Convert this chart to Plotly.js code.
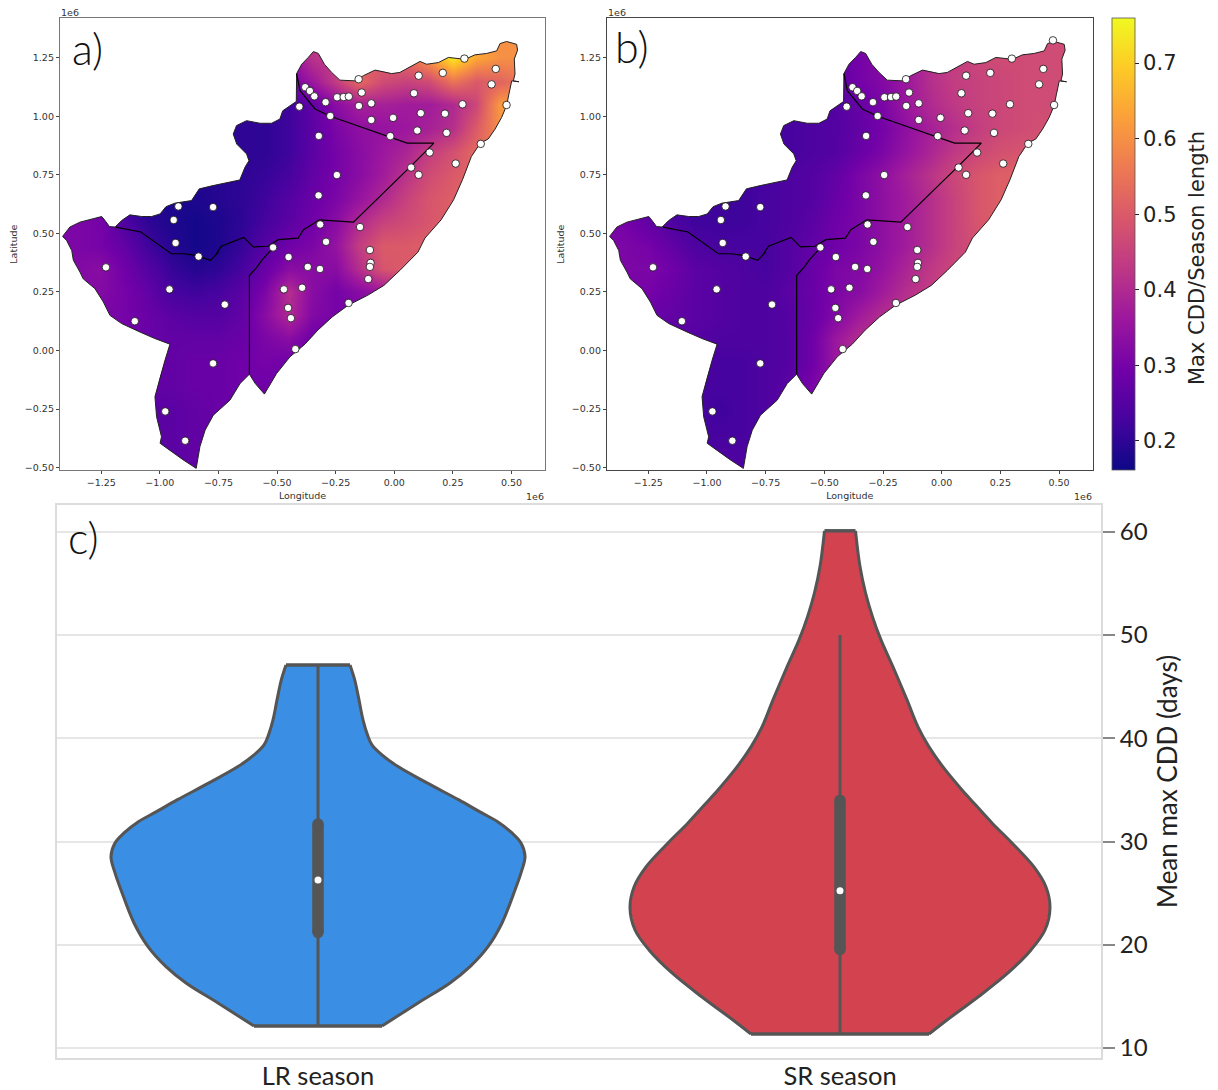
<!DOCTYPE html>
<html><head><meta charset="utf-8">
<script src="https://cdn.plot.ly/plotly-3.0.1.min.js"></script>
<style>html,body{margin:0;padding:0;background:#fff}</style></head>
<body><div id="chart" style="width:1218px;height:1090px"></div>
<script>
const _ = null;
const gridLon = [-1.45,-1.35,-1.25,-1.15,-1.05,-.95,-.85,-.75,-.65,-.55,-.45,-.35,-.25,-.15,-.05,.05,.15,.25,.35,.45,.55];
const gridLat = [1.35,1.25,1.15,1.05,.95,.85,.75,.65,.55,.45,.35,.25,.15,.05,-.05,-.15,-.25,-.35,-.45,-.55];
const ratioLR = [
[_,_,_,_,_,_,_,_,_,_,.38,.42,.44,.50,.52,.56,.62,.72,.62,.60,.60],
[_,_,_,_,_,_,_,_,_,.28,.34,.42,.44,.50,.52,.54,.62,.74,.64,.60,.60],
[_,_,_,_,_,_,_,_,.22,.24,.30,.36,.44,.53,.47,.45,.47,.55,.50,.52,.56],
[_,_,_,_,_,_,_,.21,.21,.21,.22,.27,.33,.38,.38,.37,.37,.40,.46,.62,.62],
[_,_,_,_,_,_,_,.20,.20,.20,.22,.26,.31,.34,.35,.36,.38,.41,.50,.60,.60],
[_,_,_,_,_,_,.20,.20,.20,.20,.22,.26,.30,.33,.36,.39,.44,.48,.53,.56,_],
[_,_,_,_,_,.19,.19,.19,.20,.21,.23,.27,.30,.33,.37,.42,.47,.50,.52,_,_],
[_,.29,.26,.20,.19,.18,.18,.19,.20,.22,.25,.28,.31,.35,.40,.45,.49,.51,.52,_,_],
[.31,.31,.30,.24,.20,.18,.17,.18,.20,.23,.26,.29,.33,.40,.45,.47,.49,.51,_,_,_],
[.31,.31,.30,.27,.22,.19,.17,.18,.21,.25,.29,.31,.35,.44,.50,.50,.51,_,_,_,_],
[.31,.32,.33,.29,.25,.21,.19,.20,.23,.28,.33,.33,.33,.41,.49,.50,.50,_,_,_,_],
[_,.32,.32,.30,.27,.23,.22,.23,.26,.31,.41,.33,.30,.33,.36,.38,_,_,_,_,_],
[_,.31,.31,.30,.28,.26,.25,.25,.27,.33,.40,.32,.30,.30,.33,_,_,_,_,_,_],
[_,_,.30,.29,.28,.27,.27,.27,.28,.31,.33,.29,.28,_,_,_,_,_,_,_,_],
[_,_,_,_,.27,.27,.28,.28,.29,.30,.29,.28,_,_,_,_,_,_,_,_,_],
[_,_,_,_,.27,.27,.28,.28,.29,.29,.29,_,_,_,_,_,_,_,_,_,_],
[_,_,_,_,.26,.26,.27,.28,.28,.29,.29,_,_,_,_,_,_,_,_,_,_],
[_,_,_,_,.26,.26,.27,.27,.27,_,_,_,_,_,_,_,_,_,_,_,_],
[_,_,_,_,.26,.26,.27,.27,_,_,_,_,_,_,_,_,_,_,_,_,_],
[_,_,_,_,.26,.26,.27,.27,_,_,_,_,_,_,_,_,_,_,_,_,_]];
const ratioSR = [
[_,_,_,_,_,_,_,_,_,_,.24,.30,.34,.38,.41,.44,.46,.47,.47,.47,.47],
[_,_,_,_,_,_,_,_,_,.24,.27,.30,.33,.37,.41,.44,.46,.47,.47,.47,.47],
[_,_,_,_,_,_,_,_,.24,.24,.26,.30,.32,.36,.41,.44,.45,.46,.47,.47,.47],
[_,_,_,_,_,_,_,.24,.24,.24,.25,.28,.31,.36,.40,.43,.45,.46,.47,.47,.47],
[_,_,_,_,_,_,_,.23,.23,.24,.25,.27,.30,.34,.38,.41,.44,.46,.47,.48,.48],
[_,_,_,_,_,_,.23,.23,.23,.24,.25,.28,.31,.35,.39,.43,.46,.48,.49,.49,_],
[_,_,_,_,_,.22,.22,.23,.24,.25,.27,.31,.34,.38,.42,.46,.49,.51,.51,_,_],
[_,.28,.25,.22,.22,.22,.22,.23,.24,.25,.28,.31,.34,.37,.41,.45,.49,.51,.51,_,_],
[.31,.30,.27,.24,.22,.22,.22,.23,.24,.26,.29,.31,.34,.37,.41,.45,.49,.51,_,_,_],
[.31,.31,.30,.27,.24,.23,.23,.23,.25,.27,.29,.31,.34,.37,.41,.45,.48,_,_,_,_],
[.31,.31,.31,.29,.26,.25,.24,.23,.25,.28,.31,.32,.35,.39,.43,.46,.47,_,_,_,_],
[_,.30,.30,.28,.26,.25,.24,.24,.26,.28,.31,.33,.37,.41,.44,.46,_,_,_,_,_],
[_,.29,.28,.27,.26,.25,.24,.24,.25,.28,.32,.37,.41,.43,.44,_,_,_,_,_,_],
[_,_,.27,.26,.25,.24,.24,.24,.25,.29,.36,.41,.42,_,_,_,_,_,_,_,_],
[_,_,_,_,.24,.23,.23,.24,.25,.29,.36,.40,_,_,_,_,_,_,_,_,_],
[_,_,_,_,.23,.23,.23,.24,.26,.31,.34,_,_,_,_,_,_,_,_,_,_],
[_,_,_,_,.23,.22,.23,.24,.26,.30,.33,_,_,_,_,_,_,_,_,_,_],
[_,_,_,_,.23,.23,.23,.24,.25,_,_,_,_,_,_,_,_,_,_,_,_],
[_,_,_,_,.23,.24,.24,.25,_,_,_,_,_,_,_,_,_,_,_,_,_],
[_,_,_,_,.23,.24,.24,.25,_,_,_,_,_,_,_,_,_,_,_,_,_]];

const coastLon = [-.4165,-.395,-.367,-.345,-.324,-.298,-.267,-.232,-.168,-.132,-.082,-.047,-.011,.024,.067,.110,.138,.188,.231,.302,.344,.394,.437,.451,.479,.522,.526,.512,.515,.508,.532,.501,.489,.479,.458,.430,.401,
  .367,.329,.291,.253,.200,.131,.101,.024,-.044,-.113,-.197,-.265,-.326,-.381,-.445,-.502,-.554,-.593,-.618,-.658,-.701,-.772,-.807,-.829,-.845,
  -.900,-.957,-.999,-.993,-1.014,-1.021,-.999,-.978,-.957,-1.021,-1.085,-1.163,-1.213,-1.241,-1.277,-1.327,-1.341,-1.369,-1.376,-1.398,-1.415,
  -1.384,-1.341,-1.284,-1.248,-1.234,-1.215,-1.191,-1.163,-1.128,-1.078,-1.035,-.999,-.974,-.936,-.865,-.832,-.773,-.659,-.637,-.620,-.630,-.672,-.687,-.673,-.630,-.573,-.523,-.488,-.476,-.418,-.4165];
const coastLat = [1.182,1.222,1.251,1.276,1.268,1.222,1.187,1.154,1.151,1.173,1.197,1.191,1.182,1.187,1.211,1.234,1.222,1.229,1.251,1.243,1.262,1.268,1.279,1.310,1.319,1.307,1.282,1.244,1.180,1.151,1.147,1.151,1.094,1.045,.995,.945,.903,
  .885,.828,.729,.643,.558,.480,.420,.342,.278,.236,.193,.143,.087,.027,-.027,-.098,-.186,-.141,-.101,-.141,-.212,-.276,-.340,-.410,-.503,
  -.467,-.427,-.396,-.368,-.283,-.197,-.112,-.041,.027,.051,.079,.115,.150,.207,.264,.306,.335,.385,.427,.470,.487,
  .527,.548,.562,.572,.555,.529,.527,.555,.579,.572,.572,.583,.614,.629,.640,.690,.704,.728,.782,.810,.839,.881,.924,.960,.981,.970,.970,.988,1.023,1.063,1.182];
const borderLon = [-.4165,-.402,-.338,-.273,.055,.169,.070,-.174,-.319,-.387,-.410,-.494,-.540,-.601,-.642,-.738,-.761,-.750,-.784,-.845,-.898,-.951,-1.081,-1.188,_,-.516,-.563,-.585,-.618,-.618];
const borderLat = [1.182,1.109,1.031,1.000,.885,.885,.786,.548,.558,.516,.480,.473,.445,.442,.483,.445,.409,.420,.385,.406,.413,.413,.506,.527,_,.439,.388,.357,.320,-.101];
const stationLon = [-.380,-.360,-.341,-.405,-.293,-.244,-.216,-.194,-.152,-.139,-.151,-.098,-.273,-.098,-.005,.084,.104,.207,.299,.433,.415,.291,.479,.113,.216,.098,.223,-.017,-.322,.369,.151,.262,.072,.104,-.245,-.323,-.921,-.773,-.941,-.933,-.316,-.146,-.291,-.104,-.517,-.835,-.451,-1.230,-.369,-.317,-.101,-.104,-.111,-.959,-.471,-.393,-.723,-.453,-.195,-1.107,-.441,-.422,-.773,-.977,-.892];
const stationLat = [1.124,1.108,1.085,1.041,1.060,1.081,1.082,1.084,1.158,1.101,1.044,1.055,1.001,.984,.993,1.098,1.173,1.185,1.246,1.202,1.136,1.051,1.048,1.013,1.011,.939,.929,.915,.916,.882,.845,.798,.781,.750,.749,.662,.615,.612,.557,.459,.538,.527,.464,.429,.440,.401,.399,.355,.357,.348,.374,.357,.305,.261,.261,.268,.196,.182,.203,.125,.138,.006,-.055,-.260,-.385];
const extraLonSR = [.474];
const extraLatSR = [1.324];

const seasons = ['LR season','SR season'];
const lrCdd = [47.11,45.66,43.72,41.78,40.33,39.36,38.39,37.26,35.68,34.03,32.87,31.90,30.83,29.86,28.54,26.96,25.31,22.11,19.82,17.88,16.30,14.36,12.13];
const lrDensity = [.0613,.0703,.0785,.0862,.0948,.1034,.1225,.1533,.2088,.2701,.3103,.3448,.3716,.3889,.3966,.3889,.3774,.3525,.3257,.2912,.2529,.1916,.1226];
const srCdd = [60.1,56.64,54.09,51.76,49.53,46.92,43.72,41.10,39.17,37.23,35.0,34.03,31.8,29.86,27.54,25.60,23.57,21.43,19.5,17.27,14.94,12.71,11.35];
const srDensity = [.0297,.0383,.0489,.0623,.0785,.1015,.1284,.1494,.1705,.1973,.2337,.2510,.2912,.3295,.3716,.3946,.4023,.3927,.3659,.3218,.2644,.2050,.1705];
const lrBox = {low:12.13, q1:21.2, med:26.28, q3:31.7, high:47.11};
const srBox = {low:11.35, q1:19.55, med:25.24, q3:34.0, high:50.0};
const mapTicks = [-1.25,-1,-.75,-.5,-.25,0,.25,.5];
const latTicks = [-.5,-.25,0,.25,.5,.75,1,1.25];
const cddTicks = [10,20,30,40,50,60];
const cbTicks = [.2,.3,.4,.5,.6,.7];
const plasma = ['#0d0887','#46039f','#7201a8','#9c179e','#bd3786','#d8576b','#ed7953','#fb9f3a','#fdca26','#f0f921'];

const W = 1218, H = 1090;
const xRange = [-1.426,.643], yRange = [-.51,1.418];
const fx = p => p / W, fy = p => 1 - p / H;
const SMALL = {family:'DejaVu Sans', size:9.5, color:'#333'};
const BIG = {family:'Lato', size:24, color:'#222'};
const CB = {family:'DejaVu Sans', size:21, color:'#222'};

function mapTraces(z, xa, ya, exLon, exLat) {
  const [x0,x1] = xRange, [y0,y1] = yRange;
  return [
    {type:'heatmap', x:gridLon, y:gridLat, z:z, zsmooth:'best', coloraxis:'coloraxis', xaxis:xa, yaxis:ya, hoverinfo:'skip'},
    {type:'scatter', mode:'none', fill:'toself', fillcolor:'#fff', xaxis:xa, yaxis:ya, hoverinfo:'skip',
      x:[x0,x1,x1,x0,x0,...coastLon,x0], y:[y0,y0,y1,y1,y0,...coastLat,y0]},
    {type:'scatter', mode:'lines', x:coastLon, y:coastLat, line:{color:'#222',width:1}, xaxis:xa, yaxis:ya},
    {type:'scatter', mode:'lines', x:borderLon, y:borderLat, line:{color:'#000',width:1.2}, xaxis:xa, yaxis:ya},
    {type:'scatter', mode:'markers', x:stationLon.concat(exLon), y:stationLat.concat(exLat), xaxis:xa, yaxis:ya,
      marker:{color:'#fff', size:7.5, line:{color:'#111', width:.8}}}
  ];
}
function violinTraces(i, cdd, dens, box, color) {
  const left = cdd.map((c,k)=>i-dens[k]), right = cdd.map((c,k)=>i+dens[k]);
  const n = cdd.length - 1;
  const ax = {xaxis:'x3', yaxis:'y3'};
  const side = xs => ({type:'scatter', mode:'lines', x:xs, y:cdd, line:{color:'#555',width:3,shape:'spline',smoothing:1}, ...ax});
  const cap = k => ({type:'scatter', mode:'lines', x:[left[k],right[k]], y:[cdd[k],cdd[k]], line:{color:'#555',width:3.5}, ...ax});
  return [
    {type:'scatter', mode:'none', x:[...left, ...right.slice().reverse(), left[0]], y:[...cdd, ...cdd.slice().reverse(), cdd[0]], fill:'toself', fillcolor:color, ...ax},
    side(left), side(right), cap(0), cap(n),
    {type:'scatter', mode:'lines', x:[i,i], y:[box.low,box.high], line:{color:'#555',width:3}, ...ax},
    {type:'scatter', mode:'lines+markers', x:[i,i], y:[box.q1,box.q3], line:{color:'#555',width:11.5}, marker:{color:'#555',size:11.5}, ...ax},
    {type:'scatter', mode:'markers', x:[i], y:[box.med], marker:{color:'#fff',size:7}, ...ax}
  ];
}
const traces = [
  ...mapTraces(ratioLR,'x','y',[],[]),
  ...mapTraces(ratioSR,'x2','y2',extraLonSR,extraLatSR),
  ...violinTraces(0,lrCdd,lrDensity,lrBox,'#3a8ee3'),
  ...violinTraces(1,srCdd,srDensity,srBox,'#d2434f')
];
function mapX(a,b,anchor,lineColor){return {domain:[fx(a),fx(b)],range:xRange,anchor:anchor,tickvals:mapTicks,tickformat:'.2f',ticks:'outside',ticklen:3,tickwidth:1,tickcolor:'#444',
  tickfont:SMALL,showgrid:false,zeroline:false,showline:true,mirror:true,linecolor:lineColor,linewidth:1.3,
  title:{text:'Longitude',font:SMALL,standoff:5}};}
function mapY(anchor,lineColor){return {domain:[fy(470),fy(18.3)],range:yRange,anchor:anchor,tickvals:latTicks,tickformat:'.2f',ticks:'outside',ticklen:3,tickwidth:1,tickcolor:'#444',
  tickfont:SMALL,showgrid:false,zeroline:false,showline:true,mirror:true,linecolor:lineColor,linewidth:1.3,
  title:{text:'Latitude',font:SMALL,standoff:5}};}
const ann = (text,px,py,font,angle)=>({text,x:fx(px),y:fy(py),xref:'paper',yref:'paper',xanchor:'center',yanchor:'middle',showarrow:false,font,textangle:angle||0});
const PANEL = {family:'Lato',size:43,color:'#111',weight:300};
const layout = {
  width:W,height:H,margin:{l:0,r:0,t:0,b:0},paper_bgcolor:'#fff',plot_bgcolor:'#fff',showlegend:false,hovermode:false,
  xaxis:mapX(60,545,'y','#777'), yaxis:mapY('x','#777'),
  xaxis2:mapX(607,1092.6,'y2','#444'), yaxis2:mapY('x2','#444'),
  xaxis3:{domain:[fx(57),fx(1101)],range:[-.5,1.5],anchor:'y3',tickvals:[0,1],ticktext:seasons,ticks:'',ticklabelstandoff:-6,tickfont:{...BIG,size:25.5},showgrid:false,zeroline:false,showline:true,mirror:true,linecolor:'#dcdcdc',linewidth:2},
  yaxis3:{domain:[fy(1058),fy(505)],range:[9.03,62.6],anchor:'x3',side:'right',tickvals:cddTicks,ticks:'outside',ticklen:12,tickwidth:2,tickcolor:'#888',tickfont:BIG,gridcolor:'#e6e6e6',gridwidth:2,zeroline:false,showline:true,mirror:true,linecolor:'#dcdcdc',linewidth:2,
    title:{text:'Mean max CDD (days)',font:{...BIG,size:26}}},
  coloraxis:{cmin:.1616,cmax:.7596,colorscale:plasma.map((c,i)=>[i/(plasma.length-1),c]),
    colorbar:{x:fx(1112),xanchor:'left',xpad:0,ypad:0,y:fy(470),yanchor:'bottom',lenmode:'fraction',len:(470-18.3)/H,thicknessmode:'pixels',thickness:23,
      tickvals:cbTicks,tickformat:'.1f',ticks:'outside',ticklen:4,tickcolor:'#222',tickfont:CB,outlinewidth:.8,outlinecolor:'#555'}},
  annotations:[
    ann('Max CDD/Season length',1197,258,CB,-90),
    ann('a)',87,48,PANEL),
    ann('b)',632,46,PANEL),
    ann('c)',83,537,PANEL),
    ann('1e6',70,12,SMALL), ann('1e6',617,12,SMALL),
    ann('1e6',535,496,SMALL), ann('1e6',1083,496,SMALL)
  ]
};
Plotly.newPlot('chart',traces,layout,{displayModeBar:false,responsive:false});
</script></body></html>
